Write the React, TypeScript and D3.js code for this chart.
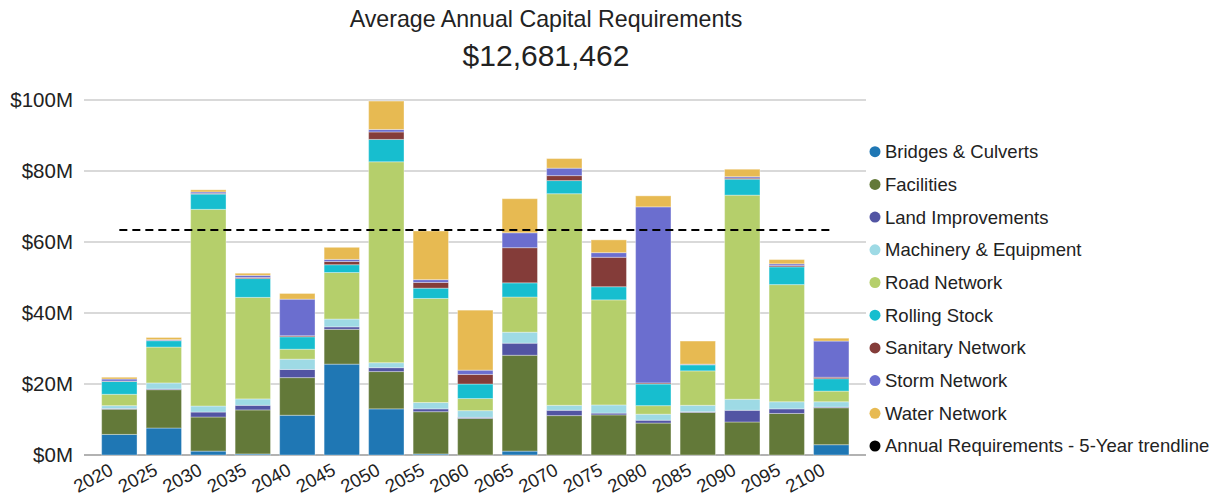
import React from 'react';
import * as d3 from 'd3';

// values in $M
const years = ['2020', '2025', '2030', '2035', '2040', '2045', '2050', '2055', '2060', '2065', '2070', '2075', '2080', '2085', '2090', '2095', '2100'];
const bridges = [5.8, 7.6, 1.1, 0.3, 11.2, 25.6, 13.0, 0.3, 0, 1.1, 0, 0, 0, 0, 0, 0, 2.9];
const facilities = [7.1, 10.8, 9.6, 12.4, 10.6, 9.8, 10.5, 11.9, 10.3, 27.0, 11.1, 11.3, 9.0, 12.0, 9.3, 11.7, 10.4];
const landImprovements = [0.2, 0.2, 1.4, 1.3, 2.3, 0.7, 1.1, 0.8, 0.3, 3.4, 1.5, 0.5, 0.8, 0.2, 3.3, 1.3, 0.2];
const machinery = [0.8, 1.7, 1.7, 1.8, 2.9, 2.2, 1.4, 1.8, 1.9, 3.1, 1.4, 2.3, 1.7, 1.8, 3.1, 2.0, 1.5];
const road = [3.2, 10.1, 55.4, 28.6, 2.8, 13.1, 56.6, 29.3, 3.4, 9.9, 59.6, 29.6, 2.4, 9.7, 57.5, 33.0, 3.0];
const rolling = [3.6, 1.8, 4.3, 5.3, 3.5, 2.2, 6.3, 2.9, 4.1, 4.0, 3.7, 3.7, 6.1, 1.7, 4.5, 5.0, 3.5];
const sanitary = [0.1, 0.1, 0.2, 0.3, 0.3, 0.9, 2.1, 1.6, 2.7, 9.9, 1.4, 8.3, 0.3, 0.1, 0.3, 0.35, 0.4];
const storm = [0.6, 0.2, 0.4, 0.6, 10.3, 0.6, 0.7, 0.8, 1.2, 4.2, 2.1, 1.3, 49.6, 0.1, 0.4, 0.5, 10.2];
const water = [0.5, 0.6, 0.6, 0.6, 1.6, 3.4, 8.0, 13.7, 16.9, 9.6, 2.7, 3.6, 3.1, 6.5, 2.1, 1.2, 0.8];

const seriesNames = ['Bridges & Culverts', 'Facilities', 'Land Improvements', 'Machinery & Equipment', 'Road Network', 'Rolling Stock', 'Sanitary Network', 'Storm Network', 'Water Network'];
const seriesValues = [bridges, facilities, landImprovements, machinery, road, rolling, sanitary, storm, water];
const colors = ['#1f77b4', '#637939', '#5254a3', '#9edae5', '#b5cf6b', '#17becf', '#843c39', '#6b6ecf', '#e7ba52'];
const trendName = 'Annual Requirements - 5-Year trendline';
const averageAnnual = 12681462;
const trendValue = (averageAnnual * 5) / 1e6;
const yTicks = [0, 20, 40, 60, 80, 100];

const font = 'Arial, "Liberation Sans", sans-serif';

const App = () => {
  const rows = years.map((year, i) => {
    const row: any = { year };
    seriesNames.forEach((name, s) => { row[name] = seriesValues[s][i]; });
    return row;
  });
  const stacked = d3.stack<any>().keys(seriesNames)(rows);

  const x = d3.scaleBand().domain(years).range([97.2, 853.4]).paddingInner(0.205).paddingOuter(0.1);
  const y = d3.scaleLinear().domain([0, 100]).range([455, 100]);
  const fmt = (v: number) => `$${v}M`;

  const trendLine = d3.line<string>()
    .x(d => (x(d) as number) + x.bandwidth() / 2)
    .y(() => y(trendValue));

  return (
    <svg width={1222} height={499} style={{ position: 'absolute', left: 0, top: 0, background: '#fff' }} fontFamily={font}>
      <text x={546} y={27} textAnchor="middle" fontSize={23.2} fill="#222">Average Annual Capital Requirements</text>
      <text x={546} y={66} textAnchor="middle" fontSize={30} fill="#222">{`$${d3.format(',')(averageAnnual)}`}</text>

      {yTicks.map(t => (
        <g key={t}>
          <line x1={84} x2={866} y1={y(t)} y2={y(t)} stroke={t === 0 ? '#999' : '#ccc'} strokeWidth={1.5} />
          <text x={73} y={y(t)} dy="0.35em" textAnchor="end" fontSize={20.5} fill="#222">{fmt(t)}</text>
        </g>
      ))}

      {stacked.map((layer, s) => (
        <g key={layer.key} fill={colors[s]}>
          {layer.map((d, i) => (
            d[1] - d[0] > 0 ? (
              <rect key={i} x={x(years[i])} width={x.bandwidth()} y={y(d[1])} height={y(d[0]) - y(d[1])}
                stroke="#fff" strokeOpacity={0.35} strokeWidth={1} />
            ) : null
          ))}
        </g>
      ))}

      <path d={trendLine([years[0], years[years.length - 1]]) || ''} fill="none" stroke="#000" strokeWidth={2} strokeDasharray="8,5" />

      {years.map(yr => (
        <text key={yr} transform={`translate(${(x(yr) as number) + x.bandwidth() / 2 - 5},474) rotate(-28)`} textAnchor="end" fontSize={18.5} fill="#222">{yr}</text>
      ))}

      {[...seriesNames, trendName].map((name, i) => (
        <g key={name} transform={`translate(875,${151.7 + i * 32.7})`}>
          <circle r={5.5} fill={i < colors.length ? colors[i] : '#000'} />
          <text x={10} dy="0.35em" fontSize={18.5} fill="#222">{name}</text>
        </g>
      ))}
    </svg>
  );
};

export default App;
